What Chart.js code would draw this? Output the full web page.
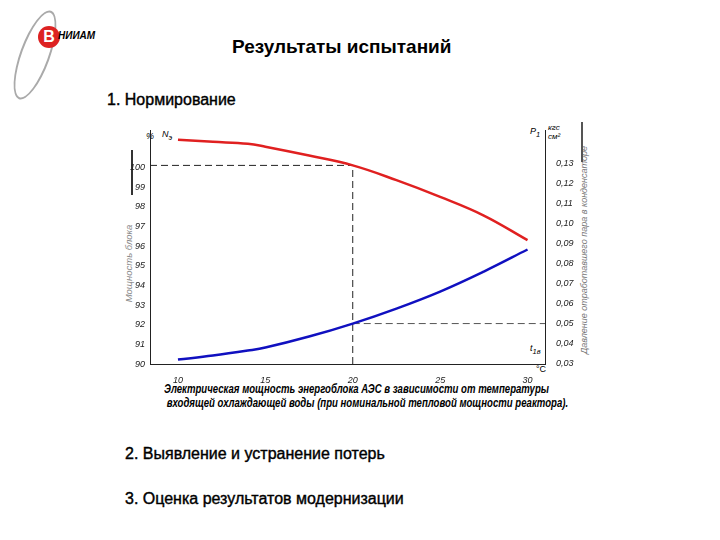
<!DOCTYPE html>
<html><head><meta charset="utf-8">
<script src="https://cdn.jsdelivr.net/npm/chart.js@4"></script>
<style>
body{margin:0;width:720px;height:540px;background:#fff;font-family:"Liberation Sans",Arial,sans-serif;position:relative;overflow:hidden}
.t{position:absolute;white-space:nowrap}
</style></head><body>
<div class="t" style="left:232px;top:36px;font-size:19px;font-weight:bold">Результаты испытаний</div>
<div class="t" style="left:107px;top:91px;font-size:16px;-webkit-text-stroke:0.4px #000">1. Нормирование</div>
<div class="t" style="left:125px;top:445px;font-size:16px;-webkit-text-stroke:0.4px #000">2. Выявление и устранение потерь</div>
<div class="t" style="left:125px;top:490px;font-size:16px;-webkit-text-stroke:0.4px #000">3. Оценка результатов модернизации</div>
<div class="t" style="left:20px;top:8px;width:26px;height:90px;border:2px solid #aaa;border-radius:50%;transform:rotate(20deg)"></div>
<div class="t" style="left:38px;top:26px;width:22px;height:22px;border-radius:50%;background:#d22;color:#fff;font-weight:bold;font-size:16px;text-align:center;line-height:22px">В</div>
<div class="t" style="left:58px;top:30px;font-size:10px;font-weight:bold;font-style:italic">НИИАМ</div>
<div class="t" style="left:131px;top:150px;width:2px;height:45px;background:#333"></div>
<div class="t" style="left:78px;top:258px;width:100px;font-size:9.5px;font-style:italic;color:#888;transform:rotate(-90deg);text-align:center">Мощность блока</div>
<div class="t" style="left:474px;top:245px;width:220px;font-size:9px;font-style:italic;color:#777;transform:rotate(-90deg);text-align:center">Давление отработавшего пара в конденсаторе</div>
<div class="t" style="left:581px;top:122px;width:2px;height:40px;background:#555"></div>
<div class="t" style="left:146px;top:131px;font-size:9px;font-style:italic">%</div>
<div class="t" style="left:162px;top:129px;font-size:9px;font-style:italic">N<sub>э</sub></div>
<div class="t" style="left:530px;top:126px;font-size:9px;font-style:italic">P<sub>1</sub></div>
<div class="t" style="left:548px;top:123px;font-size:8px;font-style:italic;line-height:9px">кгс<br>см²</div>
<div class="t" style="left:530px;top:343px;font-size:9px;font-style:italic">t<sub>1в</sub></div>
<div class="t" style="left:536px;top:364px;font-size:9px">°C</div>
<div class="t" style="left:164px;top:382px;font-size:13.5px;font-weight:bold;font-style:italic;line-height:14px;transform:scaleX(0.71);transform-origin:0 0">Электрическая мощность энергоблока АЭС в зависимости от температуры<br>&nbsp;входящей охлаждающей воды (при номинальной тепловой мощности реактора).</div>
<div style="position:absolute;left:100px;top:120px;width:500px;height:270px"><canvas id="c"></canvas></div>
<script>
const temps=[10,12,14,15,17.5,20,22.5,25,27.5,30];
const power=[101.4,101.3,101.2,101.05,100.6,100.1,99.35,98.5,97.55,96.3];
const pressure=[0.032,0.034,0.0365,0.038,0.0435,0.050,0.0575,0.066,0.076,0.087];
const leftTicks=[90,91,92,93,94,95,96,97,98,99,100];
const rightTicks=[0.03,0.04,0.05,0.06,0.07,0.08,0.09,0.10,0.11,0.12,0.13];
const xTicks=[10,15,20,25,30];
const refT=20, refP=100.1, refPr=0.050;
const dash={borderColor:'#222',borderWidth:1,borderDash:[7,4],pointRadius:0,fill:false};
new Chart(document.getElementById('c'),{type:'line',
data:{datasets:[
{data:temps.map((t,i)=>({x:t,y:power[i]})),borderColor:'#e02020',borderWidth:2.5,pointRadius:0,tension:0.4,yAxisID:'y'},
{data:temps.map((t,i)=>({x:t,y:pressure[i]})),borderColor:'#1010c0',borderWidth:2.5,pointRadius:0,tension:0.4,yAxisID:'y2'},
{...dash,data:[{x:refT,y:90},{x:refT,y:refP}],yAxisID:'y'},
{...dash,data:[{x:8.4,y:refP},{x:refT,y:refP}],yAxisID:'y'},
{...dash,borderColor:'#555',data:[{x:refT,y:refPr},{x:31,y:refPr}],yAxisID:'y2'}
]},
options:{responsive:true,maintainAspectRatio:false,animation:false,
layout:{padding:{top:10,left:0,right:0,bottom:0}},
plugins:{legend:{display:false},tooltip:{enabled:false}},
scales:{
x:{type:'linear',min:8.4,max:31,afterBuildTicks:s=>{s.ticks=xTicks.map(v=>({value:v}))},
 grid:{display:false,drawTicks:true},border:{color:'#222'},
 ticks:{font:{size:9,style:'italic'},color:'#222'},afterFit:s=>{s.height=26}},
y:{position:'left',min:90,max:101.9,afterBuildTicks:s=>{s.ticks=leftTicks.map(v=>({value:v}))},
 grid:{display:false,tickLength:4},border:{color:'#222'},ticks:{padding:1,font:{size:9,style:'italic'},color:'#222'},afterFit:s=>{s.width=50}},
y2:{position:'right',min:0.0298,max:0.1467,afterBuildTicks:s=>{s.ticks=rightTicks.map(v=>({value:v}))},
 grid:{display:false},border:{color:'#222'},ticks:{font:{size:9,style:'italic'},color:'#222',callback:v=>v.toFixed(2).replace('.',',')},afterFit:s=>{s.width=55}}
}}});
</script></body></html>
